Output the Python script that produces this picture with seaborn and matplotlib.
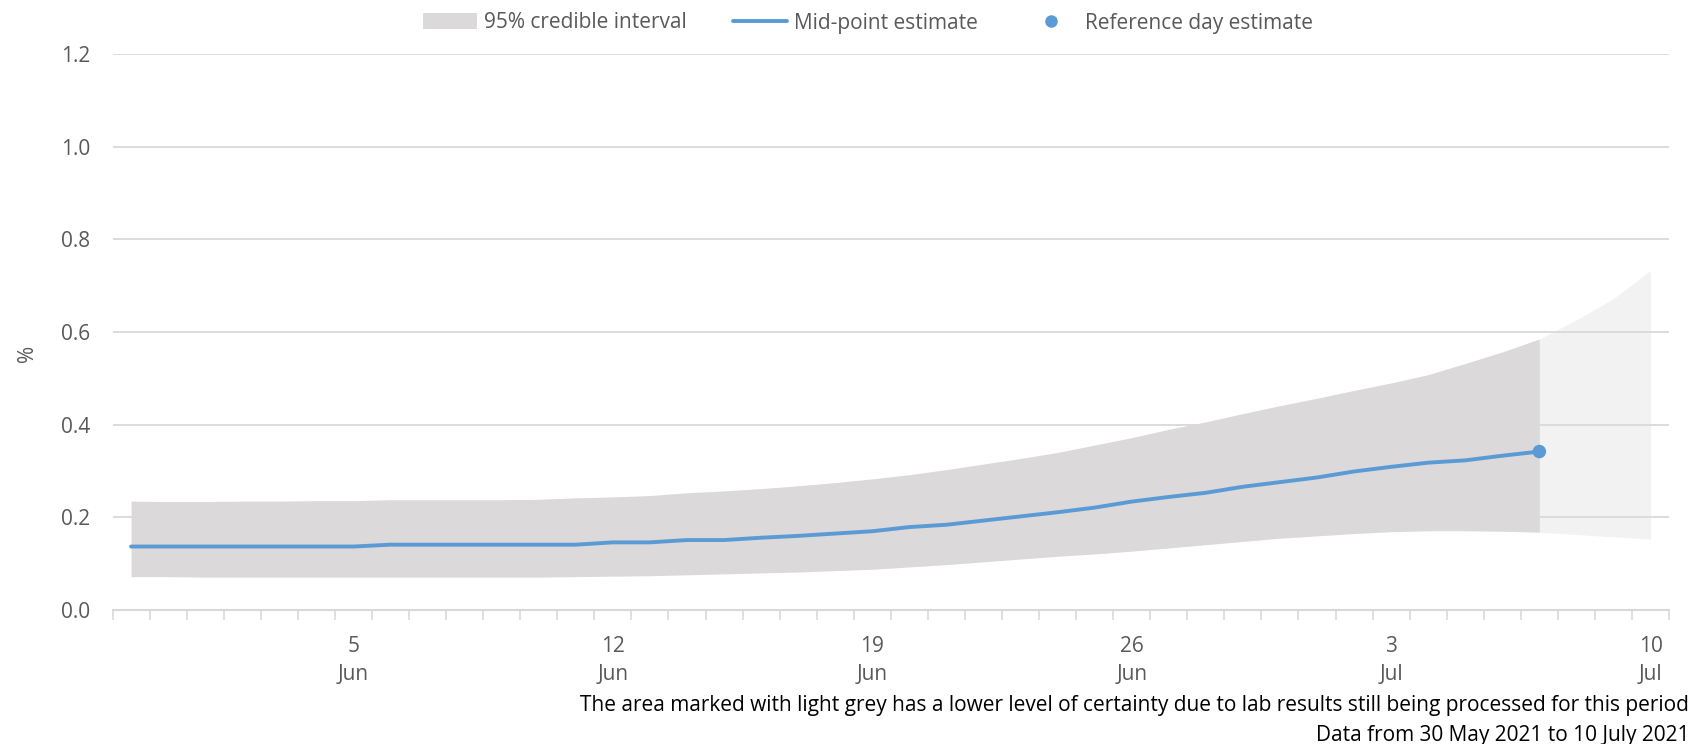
import numpy as np
import pandas as pd
import matplotlib
matplotlib.use("Agg")
import matplotlib.pyplot as plt
import matplotlib.dates as mdates
from matplotlib.patches import Patch
from matplotlib.lines import Line2D
import seaborn as sns

# Daily modelled estimates, 30 May to 10 July 2021 (percent)
dates = pd.date_range("2021-05-30", "2021-07-10", freq="D")

upper = [0.235, 0.234, 0.234, 0.235, 0.235, 0.236, 0.236, 0.238, 0.238, 0.238,
         0.238, 0.239, 0.242, 0.244, 0.247, 0.253, 0.257, 0.262, 0.268, 0.275,
         0.283, 0.292, 0.303, 0.315, 0.327, 0.340, 0.356, 0.372, 0.390, 0.406,
         0.424, 0.441, 0.457, 0.474, 0.490, 0.508, 0.532, 0.557, 0.585, 0.626,
         0.672, 0.733]

lower = [0.072, 0.072, 0.071, 0.071, 0.071, 0.071, 0.071, 0.071, 0.071, 0.071,
         0.071, 0.071, 0.072, 0.073, 0.074, 0.076, 0.078, 0.080, 0.082, 0.085,
         0.088, 0.093, 0.098, 0.104, 0.110, 0.116, 0.121, 0.127, 0.134, 0.141,
         0.148, 0.155, 0.160, 0.165, 0.169, 0.171, 0.171, 0.170, 0.168, 0.163,
         0.158, 0.153]

# Mid-point estimate runs up to the reference day (7 July)
mid = [0.137, 0.137, 0.137, 0.137, 0.137, 0.137, 0.137, 0.141, 0.141, 0.141,
       0.141, 0.141, 0.141, 0.146, 0.146, 0.151, 0.151, 0.156, 0.160, 0.165,
       0.170, 0.179, 0.184, 0.193, 0.202, 0.211, 0.221, 0.234, 0.244, 0.253,
       0.266, 0.276, 0.286, 0.299, 0.309, 0.318, 0.323, 0.333, 0.342]

ref_date = pd.Timestamp("2021-07-07")
ref_value = 0.342

tick_dates = ["2021-06-05", "2021-06-12", "2021-06-19", "2021-06-26",
              "2021-07-03", "2021-07-10"]
tick_labels = ["5\nJun", "12\nJun", "19\nJun", "26\nJun", "3\nJul", "10\nJul"]
y_ticks = [0.0, 0.2, 0.4, 0.6, 0.8, 1.0, 1.2]

BLUE = "#5B9BD5"
BAND = "#DBD9DA"
BAND_LIGHT = "#F2F2F2"
GRID = "#D9D9D9"
TEXT = "#595959"
FS = 15

sns.set_theme(style="white")
plt.rcParams["font.family"] = ["Open Sans", "DejaVu Sans"]

fig = plt.figure(figsize=(16.95, 7.44), dpi=100)
ax = fig.add_axes([0.0664, 0.1801, 0.9183, 0.7473])

n_ref = len(mid)
# provisional period drawn lighter, underneath the gridlines
ax.fill_between(dates[n_ref - 1:], lower[n_ref - 1:], upper[n_ref - 1:],
                color=BAND_LIGHT, lw=0, zorder=0.2)
ax.fill_between(dates[:n_ref], lower[:n_ref], upper[:n_ref],
                color=BAND, lw=0, zorder=1)

sns.lineplot(x=dates[:n_ref], y=mid, color=BLUE, lw=2.8, ax=ax, zorder=3)
sns.scatterplot(x=[ref_date], y=[ref_value], s=95, color=BLUE,
                edgecolor="none", ax=ax, zorder=4)

half = pd.Timedelta(hours=12)
ax.set_xlim(dates[0] - half, dates[-1] + half)
ax.set_ylim(0, 1.2)
ax.set_yticks(y_ticks)
ax.set_yticklabels([f"{v:.1f}" for v in y_ticks])

ax.set_xticks(pd.to_datetime(tick_dates))
ax.set_xticklabels(tick_labels)
for lab in ax.get_xticklabels():
    lab.set_linespacing(1.4)
boundaries = pd.date_range(dates[0] - half, periods=len(dates) + 1, freq="D")
ax.xaxis.set_minor_locator(matplotlib.ticker.FixedLocator(mdates.date2num(boundaries)))

ax.set_axisbelow(True)
ax.grid(axis="y", color=GRID, lw=1.3, zorder=0.5)
ax.grid(axis="x", visible=False)
for side in ["top", "right", "left"]:
    ax.spines[side].set_visible(False)
ax.spines["bottom"].set_color(GRID)
ax.spines["bottom"].set_linewidth(1.5)
ax.spines["bottom"].set_zorder(5)

ax.tick_params(axis="x", which="major", length=0, pad=19, labelsize=FS, labelcolor=TEXT)
ax.tick_params(axis="x", which="minor", length=7, width=1.2, color=GRID, direction="out", bottom=True)
ax.tick_params(axis="y", length=0, pad=16, labelsize=FS, labelcolor=TEXT)
ax.set_xlabel("")
ax.set_ylabel("")

fig.text(0.016, 1 - 353 / 744, "%", rotation=90, ha="center", va="center",
         fontsize=FS, color=TEXT)

handles = [
    Patch(facecolor=BAND, edgecolor="none"),
    Line2D([0], [0], color=BLUE, lw=2.8),
    Line2D([0], [0], color=BLUE, lw=0, marker="o", markersize=8),
]
fig.legend(handles, ["95% credible interval", "Mid-point estimate", "Reference day estimate"],
           loc="center", bbox_to_anchor=(0.512, 1 - 23 / 744), ncol=3, frameon=False,
           fontsize=FS, labelcolor=TEXT, handlelength=2.6, handleheight=0.8,
           handletextpad=0.35, columnspacing=2.2)

fig.text(0.9965, 1 - 705 / 744,
         "The area marked with light grey has a lower level of certainty due to lab results still being processed for this period",
         ha="right", va="center", fontsize=FS, color="black")
fig.text(0.9965, 1 - 735 / 744, "Data from 30 May 2021 to 10 July 2021",
         ha="right", va="center", fontsize=FS, color="black")

fig.savefig("out.png", dpi=100)
